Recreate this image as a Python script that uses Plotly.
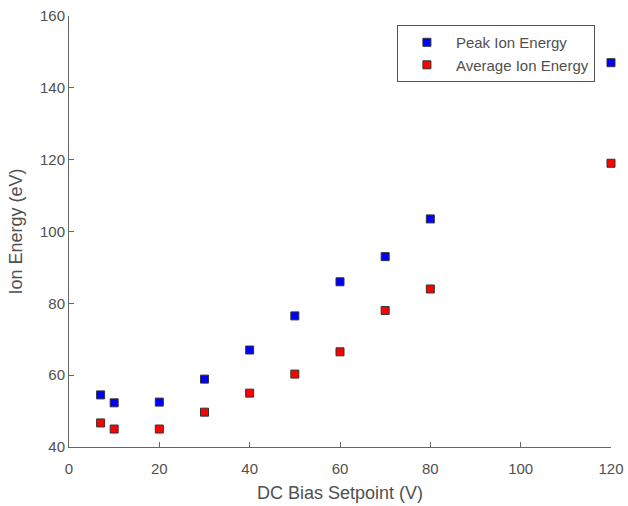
import plotly.graph_objects as go

x_vals = [7, 10, 20, 30, 40, 50, 60, 70, 80, 120]
peak_energy = [54.5, 52.3, 52.5, 58.9, 67.0, 76.5, 86.0, 93.0, 103.5, 147.0]
avg_energy = [46.7, 45.0, 45.0, 49.7, 55.0, 60.3, 66.5, 78.0, 84.0, 119.0]

x_ticks = [0, 20, 40, 60, 80, 100, 120]
y_ticks = [40, 60, 80, 100, 120, 140, 160]

font_family = "Liberation Sans, Arial, sans-serif"
text_color = "#505050"

fig = go.Figure()
fig.add_trace(go.Scatter(
    x=x_vals, y=peak_energy, mode="markers", name="Peak Ion Energy",
    marker=dict(symbol="square", size=8, color="#0000ff",
                line=dict(color="#333333", width=1)),
    cliponaxis=False,
))
fig.add_trace(go.Scatter(
    x=x_vals, y=avg_energy, mode="markers", name="Average Ion Energy",
    marker=dict(symbol="square", size=8, color="#ff0000",
                line=dict(color="#333333", width=1)),
    cliponaxis=False,
))

axis_common = dict(
    showgrid=False, zeroline=False, showline=True, linecolor="#666666",
    linewidth=1, ticks="inside", ticklen=5, tickcolor="#666666",
    tickfont=dict(size=15, color=text_color, family=font_family),
    mirror=False, automargin=False, ticklabeloverflow="allow",
)

fig.update_layout(
    width=628, height=506,
    margin=dict(l=69, r=17, t=16, b=59),
    paper_bgcolor="white", plot_bgcolor="white",
    font=dict(family=font_family, color=text_color),
    xaxis=dict(range=[0, 120], tickvals=x_ticks, ticklabelstandoff=8,
               title=dict(text="DC Bias Setpoint (V)", font=dict(size=18, color=text_color), standoff=10),
               **axis_common),
    yaxis=dict(range=[40, 160], tickvals=y_ticks,
               title=dict(text="Ion Energy (eV)", font=dict(size=18, color=text_color), standoff=12),
               **axis_common),
    showlegend=True,
    legend=dict(x=0.605, y=0.979, xanchor="left", yanchor="top",
                bgcolor="white", bordercolor="#555555", borderwidth=1,
                font=dict(size=15, color=text_color, family=font_family),
                itemwidth=48, tracegroupgap=0),
)

fig.write_html(
    "out.html",
    config={"displayModeBar": False},
    post_script="document.body.style.margin='0';document.body.style.overflow='hidden';",
)
